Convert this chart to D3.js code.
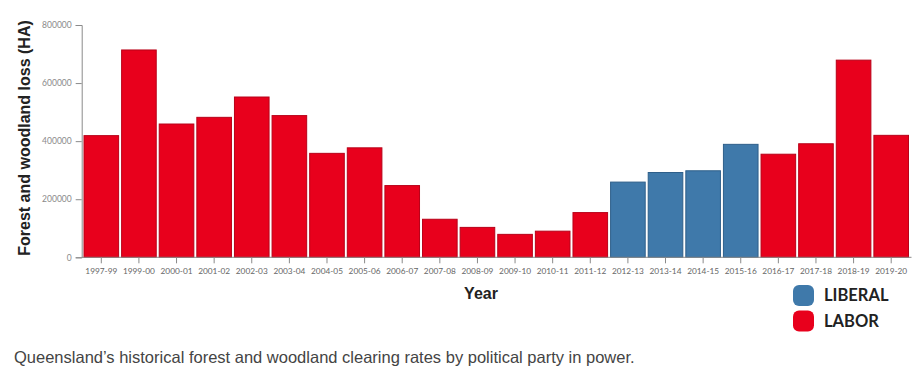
<!DOCTYPE html>
<html>
<head>
<meta charset="utf-8">
<script src="https://cdn.jsdelivr.net/npm/d3@7"></script>
<style>
  html, body { margin: 0; padding: 0; background: #ffffff; }
  svg { display: block; }
</style>
</head>
<body>
<svg id="chart" width="918" height="379"></svg>
<script>
const years = ["1997-99","1999-00","2000-01","2001-02","2002-03","2003-04","2004-05","2005-06","2006-07","2007-08","2008-09","2009-10","2010-11","2011-12","2012-13","2013-14","2014-15","2015-16","2016-17","2017-18","2018-19","2019-20"];
const values = [419000, 714000, 459000, 482000, 552000, 488000, 358000, 377000, 247000, 131000, 103000, 79000, 90000, 154000, 259000, 292000, 298000, 389000, 355000, 391000, 679000, 420000];
const parties = ["LABOR","LABOR","LABOR","LABOR","LABOR","LABOR","LABOR","LABOR","LABOR","LABOR","LABOR","LABOR","LABOR","LABOR","LIBERAL","LIBERAL","LIBERAL","LIBERAL","LABOR","LABOR","LABOR","LABOR"];
const yTicks = [0, 200000, 400000, 600000, 800000];
const legendParties = ["LIBERAL", "LABOR"];
const partyColors = ["#3f79aa", "#e8001c"];
const partyStrokes = ["#2e5f8a", "#b80018"];
const yTitle = "Forest and woodland loss (HA)";
const xTitle = "Year";
const caption = "Queensland\u2019s historical forest and woodland clearing rates by political party in power.";

const data = years.map((y, i) => ({ year: y, value: values[i], party: parties[i] }));

const svg = d3.select("#chart");
const fill = d3.scaleOrdinal().domain(legendParties).range(partyColors);
const stroke = d3.scaleOrdinal().domain(legendParties).range(partyStrokes);

const x = d3.scaleBand().domain(years).range([82.5, 910]).paddingInner(0.08).paddingOuter(0.04);
const y = d3.scaleLinear().domain([0, 800000]).range([257.3, 25]);

// bars
svg.append("g").selectAll("rect").data(data).join("rect")
  .attr("x", d => x(d.year))
  .attr("y", d => y(d.value))
  .attr("width", x.bandwidth())
  .attr("height", d => y(0) - y(d.value))
  .attr("fill", d => fill(d.party))
  .attr("stroke", d => stroke(d.party))
  .attr("stroke-width", 1);

// y axis
const gy = svg.append("g").attr("transform", "translate(81.7,0)")
  .call(d3.axisLeft(y).tickValues(yTicks).tickFormat(d3.format("d")).tickSize(6).tickPadding(4));
gy.selectAll("path, line").attr("stroke", "#8a8a8a");
gy.selectAll("text").attr("fill", "#8a8a8a").style("font-family", "Lato, sans-serif").style("font-size", "8.5px");

// x axis
const gx = svg.append("g").attr("transform", `translate(0,${y(0)})`)
  .call(d3.axisBottom(x).tickSize(6).tickSizeOuter(0).tickPadding(5));
gx.select("path").attr("d", `M81.7,0H911.5`);
gx.selectAll("path, line").attr("stroke", "#8a8a8a");
gx.selectAll("text").attr("fill", "#666").style("font-family", "Lato, sans-serif").style("font-size", "8.3px");

// axis titles
svg.append("text")
  .attr("transform", "translate(30,138) rotate(-90)")
  .attr("text-anchor", "middle")
  .style("font-family", "'Liberation Sans', Arial, sans-serif")
  .style("font-weight", "bold").style("font-size", "16px").attr("fill", "#222")
  .text(yTitle);

svg.append("text")
  .attr("x", 481).attr("y", 298.5)
  .attr("text-anchor", "middle")
  .style("font-family", "'Liberation Sans', Arial, sans-serif")
  .style("font-weight", "bold").style("font-size", "16px").attr("fill", "#222")
  .text(xTitle);

// legend
const lg = svg.append("g").selectAll("g").data(legendParties).join("g")
  .attr("transform", (d, i) => `translate(793,${285 + i * 25.5})`);
lg.append("rect").attr("width", 21).attr("height", 21).attr("rx", 6).attr("ry", 6)
  .attr("fill", d => fill(d));
lg.append("text").attr("x", 31).attr("y", 16.3)
  .style("font-family", "Lato, sans-serif").style("font-weight", "bold").style("font-size", "16.5px")
  .attr("fill", "#222").text(d => d);

// caption
svg.append("text")
  .attr("x", 14).attr("y", 363.3)
  .style("font-family", "'Liberation Sans', Arial, sans-serif").style("font-size", "16.5px")
  .attr("fill", "#444").text(caption);
</script>
</body>
</html>
